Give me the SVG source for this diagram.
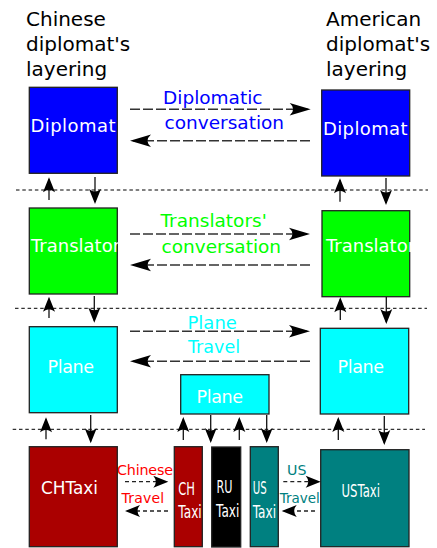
<svg xmlns="http://www.w3.org/2000/svg" width="437" height="548" viewBox="0 0 437 548">
<defs>
<style>
text{font-family:"DejaVu Sans","Liberation Sans",sans-serif}
.box{stroke:#222;stroke-width:1.3}
.lbl{fill:#fff;font-size:18px}
.title{fill:#000;font-size:20px}
.sep{stroke:#000;stroke-width:1;stroke-dasharray:3.5,2.8;fill:none}
.big{stroke:#333;stroke-width:1.5;stroke-dasharray:10,3;fill:none;marker-end:url(#hb)}
.vert{stroke:#111;stroke-width:1.3;fill:none;marker-end:url(#hv)}
.small{stroke:#222;stroke-width:1.3;stroke-dasharray:4,3;fill:none;marker-end:url(#hv)}
</style>
<marker id="hb" markerUnits="userSpaceOnUse" orient="auto" refX="0" refY="0" markerWidth="30" markerHeight="20" overflow="visible">
<path d="M3,0 L-18,-6.3 Q-11,0 -18,6.3 Z" fill="#000"/>
</marker>
<marker id="hv" markerUnits="userSpaceOnUse" orient="auto" refX="0" refY="0" markerWidth="20" markerHeight="20" overflow="visible">
<path d="M2,0 L-13,-6 Q-8,0 -13,6 Z" fill="#000"/>
</marker>
</defs>
<rect width="437" height="548" fill="#fff"/>

<g id="titles">
<text class="title" x="26" y="26">Chinese</text>
<text class="title" x="26" y="51">diplomat's</text>
<text class="title" x="26" y="76">layering</text>
<text class="title" x="326" y="26">American</text>
<text class="title" x="326" y="51">diplomat's</text>
<text class="title" x="326" y="76">layering</text>
</g>

<g id="separators">
<line class="sep" x1="16" y1="190" x2="428" y2="190"/>
<line class="sep" x1="15" y1="308.3" x2="427" y2="308.3"/>
<line class="sep" x1="12.7" y1="429.3" x2="425" y2="429.3"/>
</g>

<g id="ch-diplomat">
<rect class="box" x="29.3" y="87.3" width="88" height="86" fill="#0000ff"/>
<text class="lbl" x="30.5" y="132.3" textLength="85">Diplomat</text>
</g>
<g id="us-diplomat">
<rect class="box" x="321.7" y="90" width="88" height="86" fill="#0000ff"/>
<text class="lbl" x="323" y="135" textLength="84.5">Diplomat</text>
</g>
<g id="ch-translator">
<rect class="box" x="29.3" y="208" width="88" height="86" fill="#00ff00"/>
<text class="lbl" x="31" y="251.7">Translator</text>
</g>
<g id="us-translator">
<rect class="box" x="322" y="210.7" width="87.7" height="86" fill="#00ff00"/>
<text class="lbl" x="326" y="251.7">Translator</text>
</g>
<g id="ch-plane">
<rect class="box" x="29.3" y="326.7" width="88" height="86" fill="#00ffff"/>
<text class="lbl" x="47.5" y="372.7" style="font-size:17.5px" textLength="46.5">Plane</text>
</g>
<g id="us-plane">
<rect class="box" x="320.3" y="328.3" width="88.4" height="85.7" fill="#00ffff"/>
<text class="lbl" x="337.5" y="372.7" style="font-size:17.5px" textLength="46.5">Plane</text>
</g>
<g id="mid-plane">
<rect class="box" x="180.7" y="374.7" width="88.3" height="39.3" fill="#00ffff"/>
<text class="lbl" x="196.5" y="403.3" style="font-size:17.5px" textLength="46.5">Plane</text>
</g>
<g id="ch-taxi-big">
<rect class="box" x="29.3" y="446.7" width="88" height="100" fill="#aa0000"/>
<text class="lbl" x="41" y="494.3" style="font-size:17px" textLength="57" lengthAdjust="spacingAndGlyphs">CHTaxi</text>
</g>
<g id="us-taxi-big">
<rect class="box" x="320.7" y="449.7" width="88.3" height="97" fill="#008080"/>
<text class="lbl" x="341.5" y="496.7" style="font-size:17px" textLength="38.5" lengthAdjust="spacingAndGlyphs">USTaxi</text>
</g>
<g id="ch-taxi-small">
<rect class="box" x="174.3" y="446.7" width="28" height="100" fill="#aa0000"/>
<text class="lbl" x="178.3" y="495" textLength="16.7" lengthAdjust="spacingAndGlyphs">CH</text>
<text class="lbl" x="178.3" y="518.3" textLength="23.4" lengthAdjust="spacingAndGlyphs">Taxi</text>
</g>
<g id="ru-taxi-small">
<rect class="box" x="211.7" y="447" width="29" height="100" fill="#000000"/>
<text class="lbl" x="216.5" y="493.3" textLength="16" lengthAdjust="spacingAndGlyphs">RU</text>
<text class="lbl" x="216" y="516.7" textLength="23.3" lengthAdjust="spacingAndGlyphs">Taxi</text>
</g>
<g id="us-taxi-small">
<rect class="box" x="250.3" y="446.7" width="28" height="100" fill="#008080"/>
<text class="lbl" x="252.7" y="494" textLength="14" lengthAdjust="spacingAndGlyphs">US</text>
<text class="lbl" x="252.7" y="518.3" textLength="23.3" lengthAdjust="spacingAndGlyphs">Taxi</text>
</g>

<g id="connectors">
<line class="big" x1="130" y1="109.3" x2="307.7" y2="109.3"/>
<line class="big" x1="310" y1="140.7" x2="133" y2="140.7"/>
<line class="big" x1="130" y1="234" x2="307" y2="234"/>
<line class="big" x1="310" y1="265" x2="133" y2="265"/>
<line class="big" x1="130" y1="331.3" x2="307" y2="331.3"/>
<line class="big" x1="310" y1="361.3" x2="133" y2="361.3"/>

<line class="small" x1="125" y1="481.7" x2="166.3" y2="481.7"/>
<line class="small" x1="168" y1="511" x2="127" y2="511"/>
<line class="small" x1="283.3" y1="481.7" x2="318.7" y2="481.7"/>
<line class="small" x1="315" y1="511" x2="283.7" y2="511"/>

<line class="vert" x1="49" y1="200" x2="49" y2="179.3"/>
<line class="vert" x1="95" y1="177" x2="95" y2="202"/>
<line class="vert" x1="340" y1="201.7" x2="340" y2="180.3"/>
<line class="vert" x1="386" y1="178" x2="386" y2="203"/>

<line class="vert" x1="49" y1="318" x2="49" y2="298.7"/>
<line class="vert" x1="94.3" y1="296" x2="94.3" y2="320.7"/>
<line class="vert" x1="340.3" y1="320" x2="340.3" y2="299.3"/>
<line class="vert" x1="386.3" y1="297" x2="386.3" y2="322"/>

<line class="vert" x1="46" y1="439.3" x2="46" y2="419.3"/>
<line class="vert" x1="90.7" y1="415" x2="90.7" y2="441.3"/>
<line class="vert" x1="183.3" y1="440" x2="183.3" y2="419"/>
<line class="vert" x1="210.7" y1="415" x2="210.7" y2="441"/>
<line class="vert" x1="239.3" y1="440" x2="239.3" y2="419"/>
<line class="vert" x1="266.7" y1="415" x2="266.7" y2="441"/>
<line class="vert" x1="338.3" y1="440" x2="338.3" y2="419"/>
<line class="vert" x1="384.3" y1="416" x2="384.3" y2="443"/>
</g>

<g id="connector-labels">
<text x="163" y="104" style="font-size:18.5px" fill="#0000ff">Diplomatic</text>
<text x="164.5" y="129" style="font-size:18.5px" fill="#0000ff">conversation</text>
<text x="160.5" y="227.3" style="font-size:18.5px" fill="#00ff00">Translators'</text>
<text x="161.5" y="252.7" style="font-size:18.5px" fill="#00ff00">conversation</text>
<text x="187.5" y="328.7" style="font-size:18px" fill="#00ffff">Plane</text>
<text x="188" y="353" style="font-size:17.5px" fill="#00ffff">Travel</text>
<text x="117" y="475" style="font-size:14.3px" fill="#ff0000" textLength="56">Chinese</text>
<text x="121.5" y="503.3" style="font-size:14px" fill="#ff0000" textLength="42.6">Travel</text>
<text x="287" y="475" style="font-size:14.2px" fill="#008080" textLength="19.4">US</text>
<text x="279.8" y="503" style="font-size:13.5px" fill="#008080" textLength="40">Travel</text>
</g>
</svg>
